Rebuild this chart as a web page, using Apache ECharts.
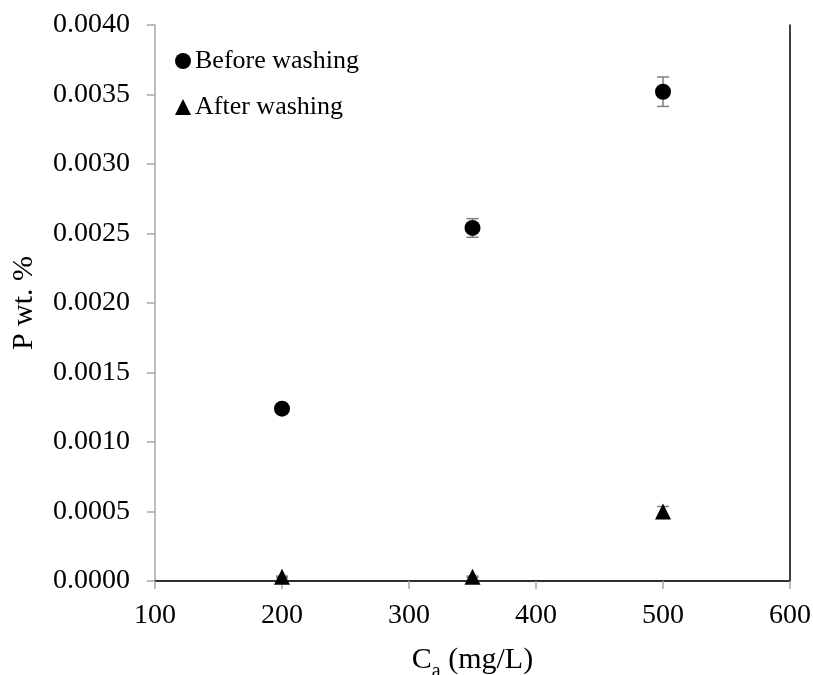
<!DOCTYPE html>
<html>
<head>
<meta charset="utf-8">
<script src="https://cdn.jsdelivr.net/npm/echarts@6/dist/echarts.min.js"></script>
<style>
  html, body { margin: 0; padding: 0; background: #fff; }
  #chart { width: 813px; height: 675px; }
</style>
</head>
<body>
<div id="chart"></div>
<script>
// Initial adsorbate concentration (mg/L)
const concentration = [200, 350, 500];
// Phosphorus content (wt. %) and standard deviations
const beforeWashing = [0.00124, 0.00254, 0.00352];
const beforeWashingErr = [0.00001, 0.000067, 0.000106];
const afterWashing = [0.00003, 0.00003, 0.0005];
const afterWashingErr = [0.000005, 0.000005, 0.000036];

const yTicks = { min: 0, max: 0.004, step: 0.0005 };
const xTicks = { min: 100, max: 600, step: 100 };

const FONT = '"Liberation Serif", "Times New Roman", serif';
const AXIS_GREY = '#a6a6a6';

function pairs(xs, ys, errs) {
  return xs.map((x, i) => errs ? [x, ys[i], errs[i]] : [x, ys[i]]);
}

// Vertical error bar with end caps
function errorBarRenderer(params, api) {
  const x = api.value(0), y = api.value(1), e = api.value(2);
  const top = api.coord([x, y + e]);
  const bot = api.coord([x, y - e]);
  const half = 6;
  const style = { stroke: '#7f7f7f', lineWidth: 1.5 };
  return {
    type: 'group',
    children: [
      { type: 'line', shape: { x1: top[0], y1: top[1], x2: bot[0], y2: bot[1] }, style },
      { type: 'line', shape: { x1: top[0] - half, y1: top[1], x2: top[0] + half, y2: top[1] }, style },
      { type: 'line', shape: { x1: bot[0] - half, y1: bot[1], x2: bot[0] + half, y2: bot[1] }, style }
    ]
  };
}

const chart = echarts.init(document.getElementById('chart'), null, { renderer: 'canvas' });

chart.setOption({
  animation: false,
  backgroundColor: '#ffffff',
  textStyle: { fontFamily: FONT, color: '#000' },
  grid: { left: 155, right: 23, top: 25, bottom: 94, containLabel: false, outerBoundsMode: 'none' },
  legend: {
    left: 170,
    top: 43,
    orient: 'vertical',
    itemGap: 20,
    itemWidth: 16,
    itemHeight: 16,
    itemStyle: { opacity: 1 },
    textStyle: { fontFamily: FONT, fontSize: 26, color: '#000', padding: [0, 0, 0, -1] },
    data: [
      { name: 'Before washing', icon: 'circle' },
      { name: 'After washing', icon: 'triangle' }
    ]
  },
  xAxis: [{
    type: 'value',
    min: xTicks.min, max: xTicks.max, interval: xTicks.step,
    name: '{n|C}{s|a}{n| (mg/L)}',
    nameLocation: 'middle',
    nameGap: 60,
    nameTextStyle: {
      rich: {
        n: { fontFamily: FONT, fontSize: 30, color: '#000', lineHeight: 34, verticalAlign: 'bottom' },
        s: { fontFamily: FONT, fontSize: 20, color: '#000', lineHeight: 34, verticalAlign: 'bottom', padding: [0, 0, -7, 0] }
      }
    },
    axisLine: { show: true, lineStyle: { color: AXIS_GREY, width: 1.5 } },
    axisTick: { show: true, inside: false, length: 8, lineStyle: { color: AXIS_GREY, width: 1.5 } },
    axisLabel: { fontFamily: FONT, fontSize: 28, color: '#000', margin: 21 },
    splitLine: { show: false }
  }, {
    type: 'value', position: 'top',
    min: xTicks.min, max: xTicks.max,
    axisLine: { show: true, lineStyle: { color: '#000', width: 1.5 } },
    axisTick: { show: false }, axisLabel: { show: false }, splitLine: { show: false }
  }],
  yAxis: [{
    type: 'value',
    min: yTicks.min, max: yTicks.max, interval: yTicks.step,
    name: 'P wt. %',
    nameLocation: 'middle',
    nameGap: 116,
    nameRotate: 90,
    nameTextStyle: { fontFamily: FONT, fontSize: 30, color: '#000' },
    axisLine: { show: true, lineStyle: { color: AXIS_GREY, width: 1.5 } },
    axisTick: { show: true, inside: false, length: 8, lineStyle: { color: AXIS_GREY, width: 1.5 } },
    axisLabel: {
      fontFamily: FONT, fontSize: 28, color: '#000', margin: 25,
      formatter: v => v.toFixed(4)
    },
    splitLine: { show: false }
  }, {
    type: 'value', position: 'right',
    min: yTicks.min, max: yTicks.max,
    axisLine: { show: true, lineStyle: { color: '#000', width: 1.5 } },
    axisTick: { show: false }, axisLabel: { show: false }, splitLine: { show: false }
  }],
  series: [
    {
      type: 'custom', name: 'Before washing err', xAxisIndex: 0, yAxisIndex: 0,
      renderItem: errorBarRenderer, data: pairs(concentration, beforeWashing, beforeWashingErr), z: 1
    },
    {
      type: 'custom', name: 'After washing err', xAxisIndex: 0, yAxisIndex: 0,
      renderItem: errorBarRenderer, data: pairs(concentration, afterWashing, afterWashingErr), z: 1
    },
    {
      type: 'scatter', name: 'Before washing', symbol: 'circle', symbolSize: 16,
      itemStyle: { color: '#000', opacity: 1 }, data: pairs(concentration, beforeWashing), z: 3
    },
    {
      type: 'scatter', name: 'After washing', symbol: 'triangle', symbolSize: [16, 16],
      itemStyle: { color: '#000', opacity: 1 }, data: pairs(concentration, afterWashing), z: 3
    }
  ]
});
</script>
</body>
</html>
